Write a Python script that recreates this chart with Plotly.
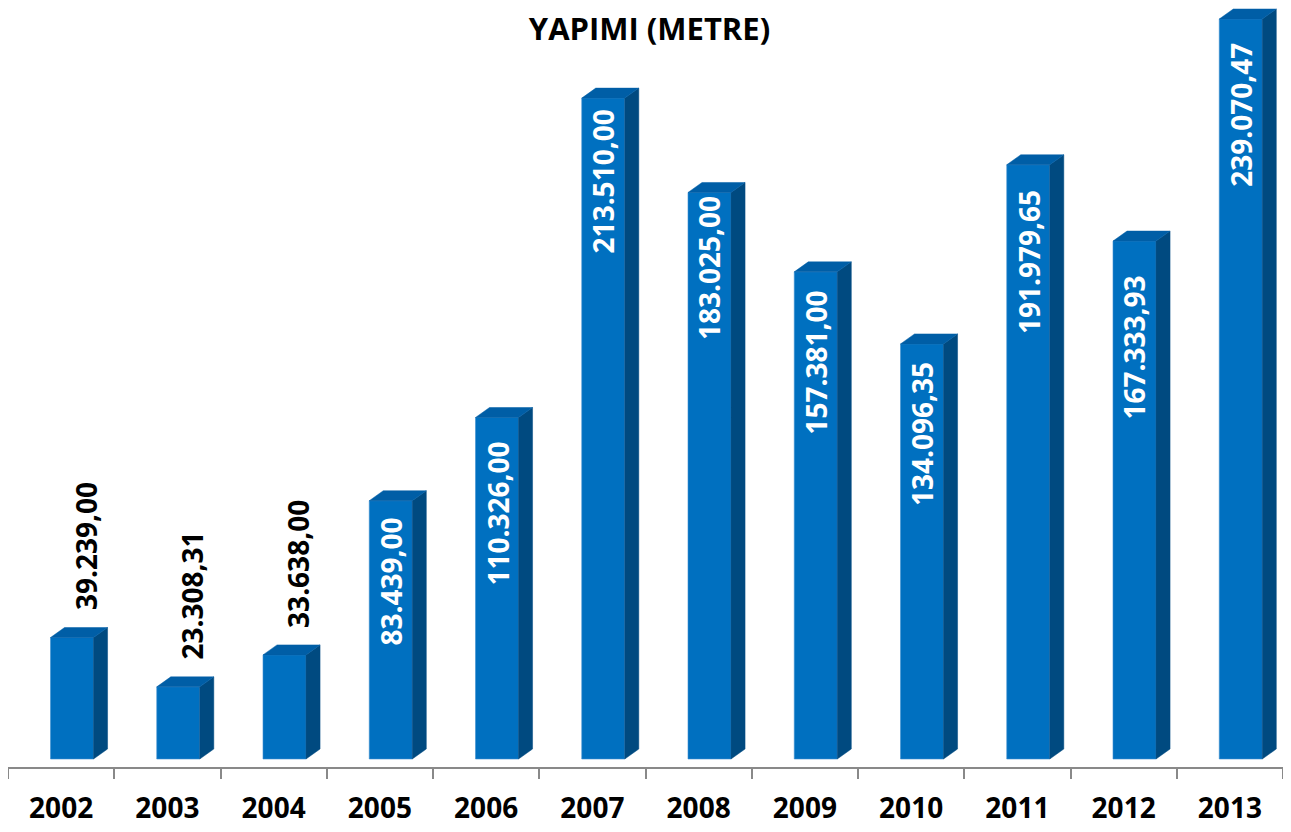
import plotly.graph_objects as go

# Data
years = ['2002', '2003', '2004', '2005', '2006', '2007',
         '2008', '2009', '2010', '2011', '2012', '2013']
values = [39239.00, 23308.31, 33638.00, 83439.00, 110326.00, 213510.00,
          183025.00, 157381.00, 134096.35, 191979.65, 167333.93, 239070.47]

# label offsets (pixels from front top), as Excel placed them
label_gap = [25, 25, 25, 15, 22, 9, 2, 17, 16, 23, 33, 22]

FRONT = '#0070C0'
TOP = '#005EA6'
SIDE = '#004A80'
FONT = 'Open Sans'

# page has an 8px body margin, so the figure is 8px smaller each way
W, H = 1283, 824
PLOT_H = 759          # plot area height in px
ZERO_PX = 8           # px between bar bottom and axis line
k = 740 / max(values)  # px per unit

# fake 3D geometry
bar_w = 0.405
bar_off = -0.1
dx = 0.132        # depth in category units
dy = 10 / k       # depth in value units (10 px)

y_lo = -ZERO_PX / k
y_hi = (PLOT_H - ZERO_PX) / k


def tr_fmt(v):
    s = f"{v:,.2f}"
    return s.replace(',', '#').replace('.', ',').replace('#', '.')


x = list(range(len(years)))

side_x, side_y, top_x, top_y = [], [], [], []
for i, v in zip(x, values):
    xl = i + bar_off
    xr = xl + bar_w
    side_x += [xr, xr + dx, xr + dx, xr, xr, None]
    side_y += [0, dy, v + dy, v, 0, None]
    top_x += [xl, xl + dx, xr + dx, xr, xl, None]
    top_y += [v, v + dy, v + dy, v, v, None]

fig = go.Figure()

fig.add_trace(go.Bar(
    x=x, y=values, width=bar_w, offset=bar_off,
    marker=dict(color=FRONT, line=dict(width=0.6, color='#3D8FD0')),
    hoverinfo='skip'
))
fig.add_trace(go.Scatter(
    x=side_x, y=side_y, fill='toself', fillcolor=SIDE, mode='lines',
    line=dict(width=0.5, color=SIDE), hoverinfo='skip'
))
fig.add_trace(go.Scatter(
    x=top_x, y=top_y, fill='toself', fillcolor=TOP, mode='lines',
    line=dict(width=0.5, color=TOP), hoverinfo='skip'
))

# data labels
for i, v, g in zip(x, values, label_gap):
    if v > 60000:
        fig.add_annotation(
            x=i + bar_off + bar_w / 2, y=v, xref='x', yref='y',
            text=tr_fmt(v), textangle=-90, showarrow=False,
            xanchor='center', yanchor='top', yshift=-g,
            font=dict(family=FONT, size=28, color='white', weight='bold')
        )
    else:
        fig.add_annotation(
            x=i + bar_off + bar_w / 2 + 0.127, y=v, xref='x', yref='y',
            text=tr_fmt(v), textangle=-90, showarrow=False,
            xanchor='center', yanchor='bottom', yshift=g,
            font=dict(family=FONT, size=28, color='black', weight='bold')
        )

fig.update_layout(
    width=W, height=H,
    margin=dict(l=0, r=8, t=0, b=H - PLOT_H),
    paper_bgcolor='white', plot_bgcolor='white',
    showlegend=False,
    title=dict(text='YAPIMI (METRE)', x=0.5, xanchor='center',
               y=1 - 21 / H, yanchor='middle',
               font=dict(family=FONT, size=31, color='black', weight='bold')),
    xaxis=dict(
        range=[-0.5, 11.5], tickvals=x, ticktext=years, ticks='',
        showline=True, linecolor='#898989', linewidth=2,
        showgrid=False, zeroline=False, ticklabelstandoff=15,
        tickfont=dict(family=FONT, size=28, color='black', weight='bold'),
        minor=dict(tickvals=[i - 0.5 for i in range(len(years) + 1)],
                   ticks='outside', ticklen=10, tickcolor='#898989',
                   tickwidth=2, showgrid=False),
    ),
    yaxis=dict(range=[y_lo, y_hi], visible=False, showgrid=False,
               zeroline=False),
)

fig.write_html("out.html")
